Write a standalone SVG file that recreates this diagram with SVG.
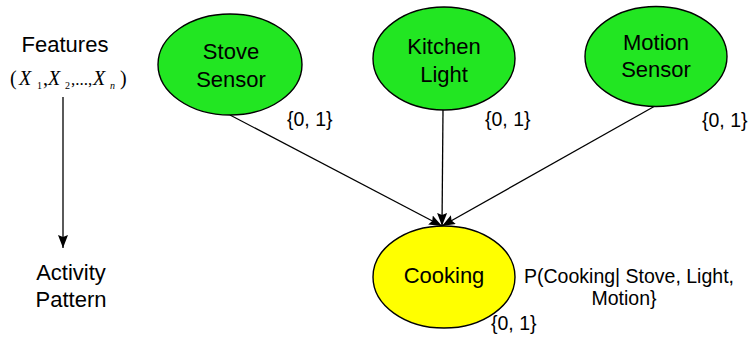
<svg xmlns="http://www.w3.org/2000/svg" width="751" height="338" viewBox="0 0 751 338">
  <style>
    .node { stroke: #000; stroke-width: 1.4; }
    .sensor { fill: #22e622; }
    .activity { fill: #ffff00; }
    .lbl { font-family: "Liberation Sans", Arial, sans-serif; fill: #000; }
    .big { font-size: 22px; }
    .small { font-size: 19.5px; }
    .math { font-family: "Liberation Serif", "Times New Roman", serif; fill: #000; }
    .edge { stroke: #000; stroke-width: 1.3; fill: none; marker-end: url(#head); }
  </style>
  <defs>
    <marker id="head" viewBox="0 0 13 10" refX="13" refY="5" markerWidth="13" markerHeight="10" markerUnits="userSpaceOnUse" orient="auto">
      <path d="M0,0 L13,5 L0,10 L2,5 Z" fill="#000"/>
    </marker>
  </defs>

  <rect width="751" height="338" fill="#fff"/>

  <!-- legend on the left: features map to an activity pattern -->
  <g id="legend">
    <text class="lbl big" x="65" y="52" text-anchor="middle">Features</text>
    <text class="math" font-size="20">
      <tspan x="10" y="85">(</tspan>
      <tspan x="19" y="85" font-style="italic">X</tspan>
      <tspan x="37" y="89" font-size="10">1</tspan>
      <tspan x="43" y="85">,</tspan>
      <tspan x="48" y="85" font-style="italic">X</tspan>
      <tspan x="65" y="89" font-size="10">2</tspan>
      <tspan x="71" y="85" font-size="17">,...,</tspan>
      <tspan x="93" y="85" font-style="italic">X</tspan>
      <tspan x="110" y="89" font-size="10" font-style="italic">n</tspan>
      <tspan x="120" y="85">)</tspan>
    </text>
    <line class="edge" x1="63" y1="97" x2="63" y2="248"/>
    <text class="lbl big" x="71" y="280" text-anchor="middle">Activity</text>
    <text class="lbl big" x="71" y="307" text-anchor="middle">Pattern</text>
  </g>

  <!-- connectors -->
  <g id="edges">
    <line class="edge" x1="230" y1="115" x2="442" y2="226"/>
    <line class="edge" x1="443" y1="110" x2="442" y2="226"/>
    <line class="edge" x1="655" y1="106" x2="442" y2="226"/>
  </g>

  <g id="stove-sensor">
    <ellipse class="node sensor" cx="230" cy="64.5" rx="72" ry="50.5"/>
    <text class="lbl big" x="231" y="59" text-anchor="middle">Stove</text>
    <text class="lbl big" x="231" y="87" text-anchor="middle">Sensor</text>
    <text class="lbl small" x="287" y="126">{0, 1}</text>
  </g>

  <g id="kitchen-light">
    <ellipse class="node sensor" cx="444" cy="58.5" rx="71" ry="51.5"/>
    <text class="lbl big" x="444" y="54" text-anchor="middle">Kitchen</text>
    <text class="lbl big" x="444" y="82" text-anchor="middle">Light</text>
    <text class="lbl small" x="485" y="126">{0, 1}</text>
  </g>

  <g id="motion-sensor">
    <ellipse class="node sensor" cx="656" cy="56.5" rx="71" ry="50"/>
    <text class="lbl big" x="656" y="50" text-anchor="middle">Motion</text>
    <text class="lbl big" x="656" y="77" text-anchor="middle">Sensor</text>
    <text class="lbl small" x="702" y="127">{0, 1}</text>
  </g>

  <g id="cooking">
    <ellipse class="node activity" cx="444" cy="277" rx="71" ry="51"/>
    <text class="lbl big" x="444" y="283" text-anchor="middle">Cooking</text>
    <text class="lbl small" x="629" y="283" text-anchor="middle">P(Cooking| Stove, Light,</text>
    <text class="lbl small" x="624" y="305" text-anchor="middle">Motion}</text>
    <text class="lbl small" x="491" y="330">{0, 1}</text>
  </g>
</svg>
